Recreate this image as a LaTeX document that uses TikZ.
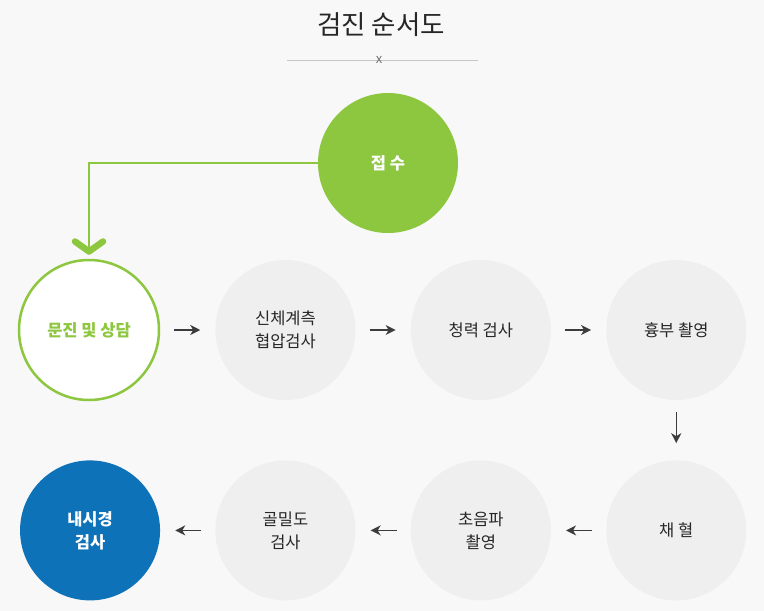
\documentclass[tikz,border=0pt]{standalone}
\usepackage{fontspec}
\setmainfont{Noto Sans CJK KR}
\usepackage{xcolor}
\usetikzlibrary{arrows.meta,positioning}

\definecolor{pagebg}{HTML}{F8F8F8}
\definecolor{stepgray}{HTML}{EFEFEF}
\definecolor{leafgreen}{HTML}{8DC63F}
\definecolor{deepblue}{HTML}{0E72B9}
\definecolor{arrowgray}{HTML}{3C3C3C}

\begin{document}
\begin{tikzpicture}[x=1pt,y=-1pt,
    stepnode/.style={circle, fill=stepgray, minimum size=140pt, inner sep=0pt, align=center,
        font=\fontsize{16.5}{23}\selectfont, text=black!85},
    startnode/.style={stepnode, fill=leafgreen, text=white, font=\fontsize{16.5}{23}\selectfont\bfseries},
    greennode/.style={stepnode, fill=white, draw=leafgreen, line width=2.5pt, text=leafgreen,
        font=\fontsize{16.5}{23}\selectfont\bfseries},
    endnode/.style={stepnode, fill=deepblue, text=white, font=\fontsize{16.5}{23}\selectfont\bfseries},
    arrow/.style={-{Stealth[length=10pt,width=10pt,inset=3pt]}, line width=1.5pt, draw=arrowgray,
        shorten <=14pt, shorten >=15pt},
    greenarrow/.style={-{Straight Barb[length=10pt,width=28pt,line width=6.5pt,round]},
        line width=1.8pt, draw=leafgreen, shorten >=4pt},
    node distance=55pt and 55pt
]

% background
\fill[pagebg] (0,0) rectangle (764,611);
\useasboundingbox (0,0) rectangle (764,611);

% title
\node[font=\fontsize{26.5}{30}\selectfont, text=black!85] (title) at (381,25) {검진 순서도};
\draw[black!22, line width=0.8pt] (287,60) -- (478,60);
\node[font=\fontsize{13}{13}\selectfont, text=black!55, inner sep=0pt] (mark) at (379,60) {x};

% steps
\node[startnode] (reception) at (388,163) {접 수};
\node[greennode] (consult) at (89,330) {문진 및 상담};
\node[stepnode, right=of consult] (body) {신체계측\\협압검사};
\node[stepnode, right=of body] (hearing) {청력 검사};
\node[stepnode, right=of hearing] (chest) {흉부 촬영};
\node[stepnode, below=60pt of chest] (blood) {채 혈};
\node[stepnode, left=of blood] (sono) {초음파\\촬영};
\node[stepnode, left=of sono] (bone) {골밀도\\검사};
\node[endnode, left=of bone] (endo) {내시경\\검사};

% connections
\draw[greenarrow] (reception.west) -| (consult.north);
\draw[arrow] (consult) -- (body);
\draw[arrow] (body) -- (hearing);
\draw[arrow] (hearing) -- (chest);
\draw[arrow, shorten <=12pt, shorten >=17pt] (chest) -- (blood);
\draw[arrow] (blood) -- (sono);
\draw[arrow] (sono) -- (bone);
\draw[arrow] (bone) -- (endo);

\end{tikzpicture}
\end{document}
